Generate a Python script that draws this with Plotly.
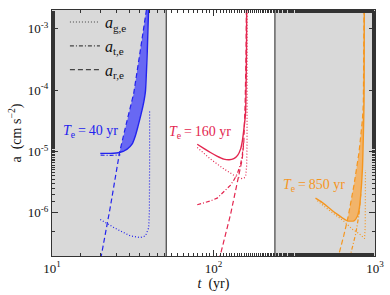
import math
import plotly.graph_objects as go

# ---------------- data ----------------
# shaded (gray) epochs, in yr
shade_left = [10, 51]
shade_right = [240, 1000]

# Te = 40 yr (blue)
b_tot_t = [19.9, 23.0, 26.2, 29.2, 31.3, 32.8, 34.1, 35.3, 36.4, 37.1, 37.9, 38.4, 38.9, 39.7]
b_tot_a = [9.3e-6, 9.3e-6, 9.6e-6, 1.09e-5, 1.31e-5, 1.78e-5, 2.58e-5, 3.7e-5, 5.2e-5, 6.6e-5, 9.5e-5, 1.84e-4, 4.2e-4, 2.4e-3]
b_g_t = [19.9, 21.4, 24.0, 26.5, 30.6, 35.3, 37.9, 39.7, 40.1, 40.2, 40.2]
b_g_a = [7.8e-7, 6.9e-7, 5.8e-7, 5.06e-7, 4.2e-7, 3.95e-7, 4.2e-7, 5.7e-7, 1.06e-6, 6.7e-6, 4.5e-5]
b_t_t = [20.0, 23.0, 26.5]
b_t_a = [8.7e-6, 8.6e-6, 8.8e-6]
b_r_t = [20.07, 20.2, 23.0, 26.2, 28.9, 32.06, 35.3, 38.8]
b_r_a = [1.8e-7, 2.0e-7, 1.27e-6, 9.6e-6, 2.9e-5, 8.8e-5, 4.6e-4, 2.4e-3]

# Te = 160 yr (red)
r_tot_t = [79.3, 88, 95.8, 105, 115.8, 125, 133.6, 141, 147.1, 151, 154.1, 157.9, 159.3, 160.2, 160.5]
r_tot_a = [1.31e-5, 1.1e-5, 9.6e-6, 8.4e-6, 7.5e-6, 7.3e-6, 7.6e-6, 8.6e-6, 1.09e-5, 1.5e-5, 2.27e-5, 4.2e-5, 1.5e-4, 6e-4, 3e-3]
r_g_t = [79.3, 95.8, 115.8, 133.6, 145, 150.6, 155, 158.5, 160.5, 161.3, 161.6]
r_g_a = [1.16e-5, 7.5e-6, 5.2e-6, 4.1e-6, 3.7e-6, 3.6e-6, 3.7e-6, 4.1e-6, 6e-6, 1.4e-5, 3e-3]
r_t_t = [79.3, 95, 105.4, 115.8, 127.5, 133.6, 140.3, 147.1, 150.6, 154]
r_t_a = [1.35e-6, 1.55e-6, 1.73e-6, 2.2e-6, 2.83e-6, 3.4e-6, 4.3e-6, 6.2e-6, 8.5e-6, 1.5e-5]
r_r_t = [108, 110.5, 127.5, 140.3, 150.6, 154, 157, 159, 160]
r_r_a = [1.7e-7, 2.1e-7, 9.4e-7, 3.2e-6, 7.5e-6, 1.4e-5, 6e-5, 4e-4, 3e-3]

# Te = 850 yr (orange)
o_tot_t = [428, 470, 507, 545, 585, 630, 675, 741, 778, 796, 816, 836, 847, 855, 857, 858]
o_tot_a = [1.73e-6, 1.48e-6, 1.27e-6, 1.08e-6, 9.4e-7, 8.2e-7, 7.4e-7, 7.4e-7, 8.8e-7, 1.1e-6, 1.95e-6, 5.2e-6, 1.78e-5, 6.1e-5, 3e-4, 3e-3]
o_g_t = [440, 520, 642, 724, 796, 840, 862, 870, 872, 873]
o_g_a = [1.57e-6, 1.1e-6, 7.3e-7, 5.4e-7, 4.6e-7, 4.0e-7, 3.8e-7, 6e-7, 2e-6, 5e-6]
o_t_t = [700, 706, 759, 796, 816]
o_t_a = [1.8e-7, 2.1e-7, 4.5e-7, 9.4e-7, 2.0e-6]
o_r_t = [585, 598, 640, 680, 741, 796, 836, 847, 853, 857]
o_r_a = [1.7e-7, 2.1e-7, 4.2e-7, 8.3e-7, 2.83e-6, 9.6e-6, 3.3e-5, 6.1e-5, 3e-4, 3e-3]

# fill start (index in r-curve and in tot-curve where the shaded wedge begins)
b_fill_start = (3, 2)
o_fill_start = (3, 6)

labels = ["<i>T</i><sub>e</sub>\u2009=\u200940 yr", "<i>T</i><sub>e</sub>\u2009=\u2009160 yr", "<i>T</i><sub>e</sub>\u2009=\u2009850 yr"]
label_t = [17.3, 83, 417]
label_a = [2.1e-5, 2.0e-5, 2.8e-6]

xtick_vals = [10, 100, 1000]
xtick_text = ["10<sup>1</sup>", "10<sup>2</sup>", "10<sup>3</sup>"]
ytick_vals = [1e-6, 1e-5, 1e-4, 1e-3]
ytick_text = ["10<sup>-6</sup>", "10<sup>-5</sup>", "10<sup>-4</sup>", "10<sup>-3</sup>"]

# ---------------- styles ----------------
BLUE = "#2323ee"
BLUE_FILL = "rgb(104,104,243)"
RED = "#e3264f"
ORANGE = "#f5961f"
ORANGE_FILL = "rgb(242,180,106)"
SERIF = "Liberation Serif, DejaVu Serif, serif"
DOT = "1px,2px"
DASHDOT = "4px,2px,1px,2px"
DASH = "5px,3px"

fig = go.Figure()

def group(tot_t, tot_a, g_t, g_a, t_t, t_a, r_t, r_a, color, fill, fill_start):
    lw = 1.2
    fig.add_trace(go.Scatter(x=g_t, y=g_a, mode="lines", line=dict(color=color, width=lw, dash=DOT), showlegend=False, hoverinfo="skip"))
    fig.add_trace(go.Scatter(x=t_t, y=t_a, mode="lines", line=dict(color=color, width=lw, dash=DASHDOT), showlegend=False, hoverinfo="skip"))
    if fill is not None:
        i_r, i_s = fill_start
        px = list(r_t[i_r:]) + list(tot_t[i_s:])[::-1]
        py = list(r_a[i_r:]) + list(tot_a[i_s:])[::-1]
        fig.add_trace(go.Scatter(x=px, y=py, mode="lines", fill="toself", fillcolor=fill, line=dict(width=0), showlegend=False, hoverinfo="skip"))
    fig.add_trace(go.Scatter(x=r_t, y=r_a, mode="lines", line=dict(color=color, width=lw, dash=DASH), showlegend=False, hoverinfo="skip"))
    fig.add_trace(go.Scatter(x=tot_t, y=tot_a, mode="lines", line=dict(color=color, width=1.4, shape="spline", smoothing=0.6), showlegend=False, hoverinfo="skip"))

group(b_tot_t, b_tot_a, b_g_t, b_g_a, b_t_t, b_t_a, b_r_t, b_r_a, BLUE, BLUE_FILL, b_fill_start)
group(r_tot_t, r_tot_a, r_g_t, r_g_a, r_t_t, r_t_a, r_r_t, r_r_a, RED, None, None)
group(o_tot_t, o_tot_a, o_g_t, o_g_a, o_t_t, o_t_a, o_r_t, o_r_a, ORANGE, ORANGE_FILL, o_fill_start)

# legend entries (black line styles)
for name, dash in [("<i>a</i><sub>g,e</sub>", DOT), ("<i>a</i><sub>t,e</sub>", DASHDOT), ("<i>a</i><sub>r,e</sub>", DASH)]:
    fig.add_trace(go.Scatter(x=[None], y=[None], mode="lines", name=name, line=dict(color="#444", width=1.2, dash=dash)))

shapes = []
for (x0, x1) in (shade_left, shade_right):
    shapes.append(dict(type="rect", xref="x", yref="paper", x0=x0, x1=x1, y0=0, y1=1, fillcolor="#d9d9d9", line=dict(width=0), layer="below"))
for xv in (shade_left[1], shade_right[0]):
    shapes.append(dict(type="line", xref="x", yref="paper", x0=xv, x1=xv, y0=0, y1=1, line=dict(color="#444", width=1.2), layer="above"))

colors = [BLUE, RED, ORANGE]
annotations = []
for txt, lx, ly, c in zip(labels, label_t, label_a, colors):
    annotations.append(dict(x=math.log10(lx), y=math.log10(ly), xref="x", yref="y", text=txt, showarrow=False,
                            xanchor="center", yanchor="middle", font=dict(family=SERIF, size=14, color=c)))

axis_common = dict(type="log", showgrid=False, zeroline=False, showline=True, linecolor="#333", linewidth=1.2,
                   mirror="allticks", ticks="inside", ticklen=6, tickcolor="#333", tickwidth=1, automargin=False,
                   minor=dict(ticks="inside", ticklen=3, tickcolor="#333", showgrid=False),
                   tickfont=dict(family=SERIF, size=13, color="#111"))

fig.update_layout(
    width=390, height=295,
    margin=dict(l=52, r=15, t=5, b=39),
    paper_bgcolor="white", plot_bgcolor="white",
    shapes=shapes, annotations=annotations,
    xaxis=dict(axis_common, range=[1, 3], tickvals=xtick_vals, ticktext=xtick_text,
               title=dict(text="<i>t</i>  (yr)", font=dict(family=SERIF, size=14, color="#111"), standoff=0)),
    yaxis=dict(axis_common, range=[-6.704, -2.696], tickvals=ytick_vals, ticktext=ytick_text,
               title=dict(text="a  (cm s<sup>\u22122</sup>)", font=dict(family=SERIF, size=14, color="#111"), standoff=2)),
    legend=dict(x=0.04, y=1.02, xanchor="left", yanchor="top", bgcolor="rgba(0,0,0,0)", borderwidth=0,
                font=dict(family=SERIF, size=16, color="#111"), itemwidth=30, tracegroupgap=0),
    showlegend=True,
)

fig.write_html("out.html", config={"displayModeBar": False},
               post_script="document.body.style.margin='0';document.body.style.overflow='hidden';")
